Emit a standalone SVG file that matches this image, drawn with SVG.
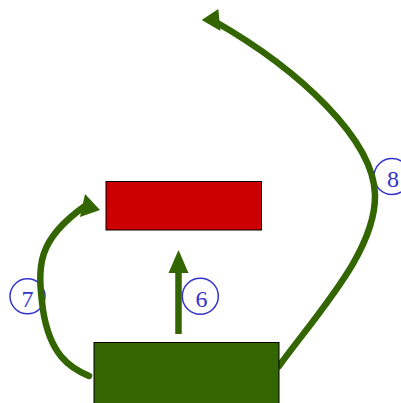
<svg xmlns="http://www.w3.org/2000/svg" width="401" height="403" viewBox="0 0 401 403">
<style>
.edge{fill:none;stroke:#336600;stroke-width:6.5;stroke-linecap:round}
.head{fill:#336600}
.badge circle{fill:none;stroke:#3333cc;stroke-width:1.5}
.badge text{font-family:"Liberation Serif",serif;font-size:24px;fill:#3333cc;text-anchor:middle}
</style>
<rect width="401" height="403" fill="#fff"/>
<g id="labels">
<g class="badge"><circle cx="200.3" cy="296.3" r="18"/><text x="201.5" y="306.5">6</text></g>
<g class="badge"><circle cx="27.5" cy="296.3" r="17.5"/><text x="27.5" y="306.5">7</text></g>
<g class="badge"><circle cx="392" cy="176.5" r="18"/><text x="393" y="187">8</text></g>
</g>
<g id="connectors">
<path class="edge" d="M178.5 334 L178.5 270" style="stroke-linecap:butt"/>
<polygon class="head" points="178.5,250 168.5,273 188.5,273"/>
<path class="edge" d="M89 376 C70 368 50 355 43 310 C37 265 37 240 85 206"/>
<polygon class="head" points="85,194 100,210 80,217"/>
<path class="edge" d="M279 366 C320 310 376 250 375 195 C374 140 300 70 214 21"/>
<polygon class="head" points="201.7,20 218.3,9 220.5,31"/>
</g>
<g id="node-red">
<rect x="106" y="181.5" width="155.5" height="48.5" fill="#cc0000" stroke="#000" stroke-width="1"/>
</g>
<g id="node-green">
<rect x="94" y="342.5" width="185" height="65" fill="#336600" stroke="#000" stroke-width="1"/>
</g>
</svg>
